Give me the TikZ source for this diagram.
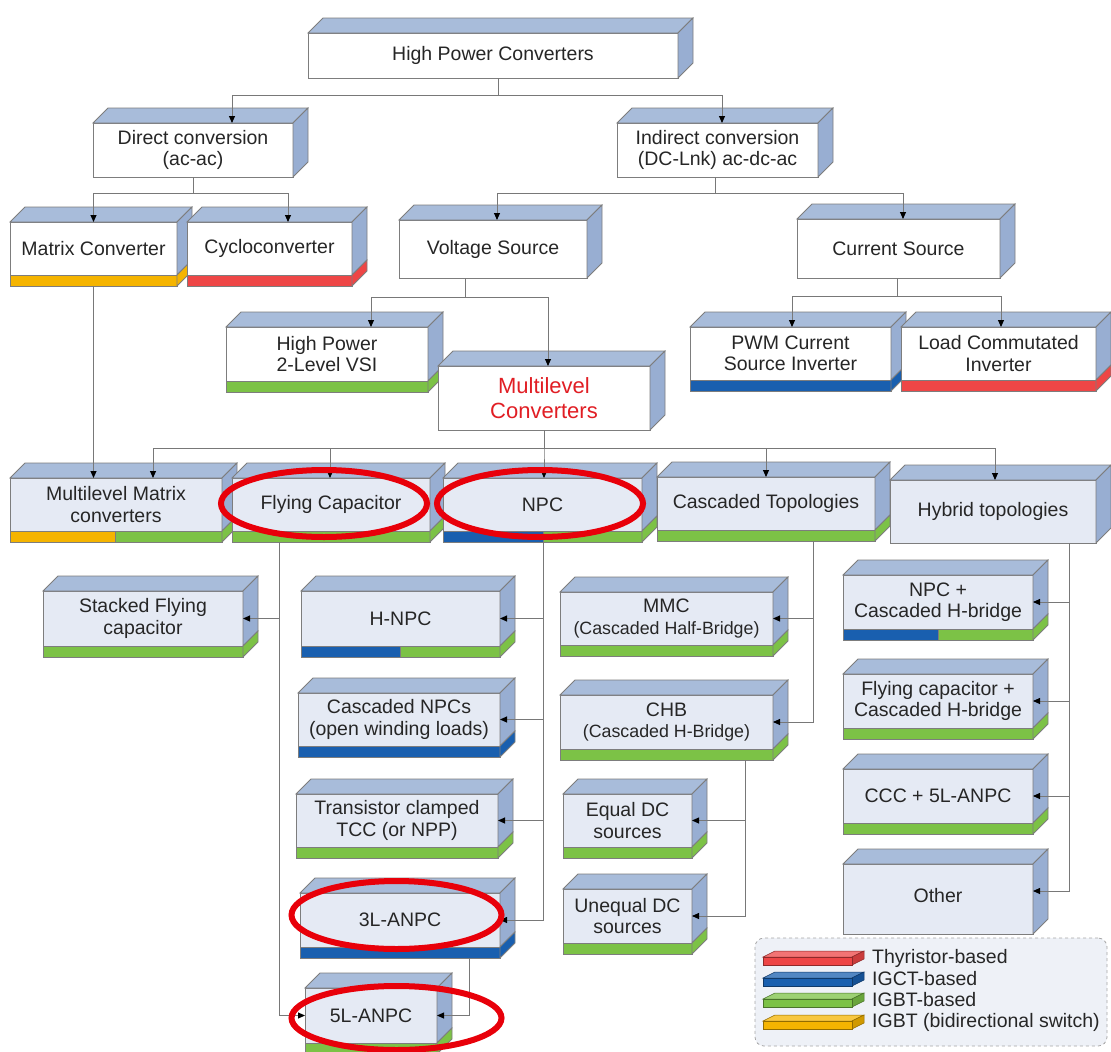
\documentclass[tikz,border=0pt]{standalone}
\usepackage{fontspec}
\setmainfont{Liberation Sans}
\usetikzlibrary{arrows.meta,calc}

\definecolor{topface}{RGB}{168,188,218}
\definecolor{sideface}{RGB}{152,174,210}
\definecolor{paleface}{RGB}{229,234,244}
\definecolor{edgegray}{RGB}{125,125,125}
\definecolor{linkgray}{RGB}{120,120,120}
\definecolor{thyred}{RGB}{238,70,70}
\definecolor{igctblue}{RGB}{25,95,175}
\definecolor{igbtgreen}{RGB}{124,194,70}
\definecolor{bidiorange}{RGB}{245,180,0}
\definecolor{ringred}{RGB}{232,0,10}
\definecolor{mltext}{RGB}{225,30,36}
\definecolor{legendfill}{RGB}{238,241,247}

\tikzset{
  face/.style={draw=edgegray, line width=0.8pt, fill=white, text=black!85,
    align=center, inner sep=2pt, outer sep=0pt,
    font=\fontsize{19.5}{21.5}\selectfont},
  lowface/.style={face, fill=paleface},
  devbar/.style={draw=edgegray, line width=0.8pt, minimum height=11pt,
    inner sep=0pt, outer sep=0pt, anchor=north},
  link/.style={draw=linkgray, line width=0.9pt},
  arr/.style={link, -{Triangle[length=7pt,width=6pt,black]}},
  ring/.style={draw=ringred, line width=6pt},
  legtext/.style={anchor=west, inner sep=0pt, text=black!85,
    font=\fontsize{19.5}{21}\selectfont}
}

% side face of a box (or of its bar)
\newcommand{\sidefill}[2]{%
  \filldraw[fill=#2, draw=edgegray, line width=0.8pt] (#1.north east) -- ++(15,-15)
    -- ([shift={(15pt,15pt)}]#1.south east) -- (#1.south east) -- cycle;
}
% top and side faces behind a front face
\newcommand{\deep}[1]{%
  \filldraw[fill=topface, draw=edgegray, line width=0.8pt] (#1.north west) -- ++(15,-15)
    -- ([shift={(15pt,15pt)}]#1.north east) -- (#1.north east) -- cycle;
  \sidefill{#1}{sideface}
}
% thin slab for the legend
\newcommand{\slab}[2]{%
  \filldraw[fill=#2!75!white, draw=#2!60!black, line width=0.5pt]
    (763,{#1-1}) -- (775,{#1-7}) -- (864,{#1-7}) -- (852,{#1-1}) -- cycle;
  \filldraw[fill=#2!85!black, draw=#2!60!black, line width=0.5pt]
    (852,{#1-1}) -- (864,{#1-7}) -- (864,{#1+1}) -- (852,{#1+7}) -- cycle;
  \filldraw[fill=#2, draw=#2!60!black, line width=0.5pt] (763,{#1-1}) rectangle (852,{#1+7});
}

\begin{document}
\begin{tikzpicture}[x=1pt, y=-1pt]
\useasboundingbox (0,0) rectangle (1111,1052);

% Top
\node[face, minimum width=370pt, minimum height=45pt] (hpc) at (493,55.5) {High Power Converters};
\deep{hpc}

% Conversion type
\node[face, minimum width=200pt, minimum height=54pt] (direct) at (193,150) {Direct conversion\\(ac-ac)};
\deep{direct}
\node[face, minimum width=201pt, minimum height=54pt] (indirect) at (717.5,150) {Indirect conversion\\(DC-Lnk) ac-dc-ac};
\deep{indirect}

% ac-ac converters
\node[face, minimum width=167pt, minimum height=53pt] (matrix) at (93.5,248.5) {Matrix Converter};
\node[devbar, fill=bidiorange, minimum width=167pt] (matrix-b) at (matrix.south) {};
\deep{matrix} \sidefill{matrix-b}{bidiorange}
\node[face, minimum width=165pt, minimum height=53pt] (cyclo) at (269.5,248.5) {Cycloconverter};
\node[devbar, fill=thyred, minimum width=165pt] (cyclo-b) at (cyclo.south) {};
\deep{cyclo} \sidefill{cyclo-b}{thyred}

% Sources
\node[face, minimum width=188pt, minimum height=58pt] (vsrc) at (493,249) {Voltage Source};
\deep{vsrc}
\node[face, minimum width=203pt, minimum height=59pt] (csrc) at (898.5,248.5) {Current Source};
\deep{csrc}

% Voltage source branch
\node[face, minimum width=202pt, minimum height=54pt] (vsi) at (327,354) {High Power\\2-Level VSI};
\node[devbar, fill=igbtgreen, minimum width=202pt] (vsi-b) at (vsi.south) {};
\deep{vsi} \sidefill{vsi-b}{igbtgreen}
\node[face, minimum width=212pt, minimum height=64pt, text=mltext,
  font=\fontsize{22}{25}\selectfont] (mlc) at (544,398) {Multilevel\\Converters};
\deep{mlc}

% Current source branch
\node[face, minimum width=201pt, minimum height=53pt] (pwm) at (790.5,353.5) {PWM Current\\Source Inverter};
\node[devbar, fill=igctblue, minimum width=201pt] (pwm-b) at (pwm.south) {};
\deep{pwm} \sidefill{pwm-b}{igctblue}
\node[face, minimum width=195pt, minimum height=53pt] (lci) at (998.5,353.5) {Load Commutated\\Inverter};
\node[devbar, fill=thyred, minimum width=195pt] (lci-b) at (lci.south) {};
\deep{lci} \sidefill{lci-b}{thyred}

% Multilevel families
\node[lowface, minimum width=212pt, minimum height=53pt] (mmcv) at (116,504.5) {Multilevel Matrix\\converters};
\node[devbar, anchor=north west, fill=bidiorange, minimum width=105pt] (mmcv-bo) at (mmcv.south west) {};
\node[devbar, anchor=north east, fill=igbtgreen, minimum width=107pt] (mmcv-bg) at (mmcv.south east) {};
\deep{mmcv} \sidefill{mmcv-bg}{igbtgreen}
\node[lowface, minimum width=198pt, minimum height=53pt] (fc) at (331,504.5) {Flying Capacitor};
\node[devbar, fill=igbtgreen, minimum width=198pt] (fc-b) at (fc.south) {};
\deep{fc} \sidefill{fc-b}{igbtgreen}
\node[lowface, minimum width=199pt, minimum height=53pt] (npc) at (542.5,504.5) {NPC};
\node[devbar, anchor=north west, fill=igctblue, minimum width=100pt] (npc-bb) at (npc.south west) {};
\node[devbar, anchor=north east, fill=igbtgreen, minimum width=99pt] (npc-bg) at (npc.south east) {};
\deep{npc} \sidefill{npc-bg}{igbtgreen}
\node[lowface, minimum width=218pt, minimum height=53pt] (casc) at (766,503.5) {Cascaded Topologies};
\node[devbar, fill=igbtgreen, minimum width=218pt] (casc-b) at (casc.south) {};
\deep{casc} \sidefill{casc-b}{igbtgreen}
\node[lowface, minimum width=206pt, minimum height=63pt] (hybrid) at (993,511.5) {Hybrid topologies};
\deep{hybrid}

% Flying capacitor column
\node[lowface, minimum width=200pt, minimum height=55pt] (sfc) at (143,618.5) {Stacked Flying\\capacitor};
\node[devbar, fill=igbtgreen, minimum width=200pt] (sfc-b) at (sfc.south) {};
\deep{sfc} \sidefill{sfc-b}{igbtgreen}

% NPC column
\node[lowface, minimum width=199pt, minimum height=55pt] (hnpc) at (400.5,618.5) {H-NPC};
\node[devbar, anchor=north west, fill=igctblue, minimum width=99pt] (hnpc-bb) at (hnpc.south west) {};
\node[devbar, anchor=north east, fill=igbtgreen, minimum width=100pt] (hnpc-bg) at (hnpc.south east) {};
\deep{hnpc} \sidefill{hnpc-bg}{igbtgreen}
\node[lowface, minimum width=202pt, minimum height=53pt] (cnpc) at (399,719.5) {Cascaded NPCs\\(open winding loads)};
\node[devbar, fill=igctblue, minimum width=202pt] (cnpc-b) at (cnpc.south) {};
\deep{cnpc} \sidefill{cnpc-b}{igctblue}
\node[lowface, minimum width=202pt, minimum height=53pt] (tcc) at (397,820.5) {Transistor clamped\\TCC (or NPP)};
\node[devbar, fill=igbtgreen, minimum width=202pt] (tcc-b) at (tcc.south) {};
\deep{tcc} \sidefill{tcc-b}{igbtgreen}
\node[lowface, minimum width=200pt, minimum height=54pt] (anpc3) at (400,920) {3L-ANPC};
\node[devbar, fill=igctblue, minimum width=200pt] (anpc3-b) at (anpc3.south) {};
\deep{anpc3} \sidefill{anpc3-b}{igctblue}
\node[lowface, minimum width=132pt, minimum height=55pt] (anpc5) at (371,1015.5) {5L-ANPC};
\node[devbar, fill=igbtgreen, minimum width=132pt] (anpc5-b) at (anpc5.south) {};
\deep{anpc5} \sidefill{anpc5-b}{igbtgreen}

% Cascaded column
\node[lowface, minimum width=213pt, minimum height=53pt] (mmc) at (666.5,618.5) {MMC\\{\fontsize{17.8}{20}\selectfont (Cascaded Half-Bridge)}};
\node[devbar, fill=igbtgreen, minimum width=213pt] (mmc-b) at (mmc.south) {};
\deep{mmc} \sidefill{mmc-b}{igbtgreen}
\node[lowface, minimum width=213pt, minimum height=54pt] (chb) at (666.5,722) {CHB\\{\fontsize{17.8}{20}\selectfont (Cascaded H-Bridge)}};
\node[devbar, fill=igbtgreen, minimum width=213pt] (chb-b) at (chb.south) {};
\deep{chb} \sidefill{chb-b}{igbtgreen}
\node[lowface, minimum width=129pt, minimum height=53pt] (eqdc) at (627.5,820.5) {Equal DC\\sources};
\node[devbar, fill=igbtgreen, minimum width=129pt] (eqdc-b) at (eqdc.south) {};
\deep{eqdc} \sidefill{eqdc-b}{igbtgreen}
\node[lowface, minimum width=129pt, minimum height=54pt] (uneqdc) at (627.5,916) {Unequal DC\\sources};
\node[devbar, fill=igbtgreen, minimum width=129pt] (uneqdc-b) at (uneqdc.south) {};
\deep{uneqdc} \sidefill{uneqdc-b}{igbtgreen}

% Hybrid column
\node[lowface, minimum width=190pt, minimum height=54pt] (npcchb) at (938,602) {NPC +\\Cascaded H-bridge};
\node[devbar, anchor=north west, fill=igctblue, minimum width=95pt] (npcchb-bb) at (npcchb.south west) {};
\node[devbar, anchor=north east, fill=igbtgreen, minimum width=95pt] (npcchb-bg) at (npcchb.south east) {};
\deep{npcchb} \sidefill{npcchb-bg}{igbtgreen}
\node[lowface, minimum width=190pt, minimum height=54pt] (fcchb) at (938,701) {Flying capacitor +\\Cascaded H-bridge};
\node[devbar, fill=igbtgreen, minimum width=190pt] (fcchb-b) at (fcchb.south) {};
\deep{fcchb} \sidefill{fcchb-b}{igbtgreen}
\node[lowface, minimum width=190pt, minimum height=54pt] (ccc) at (938,796) {CCC + 5L-ANPC};
\node[devbar, fill=igbtgreen, minimum width=190pt] (ccc-b) at (ccc.south) {};
\deep{ccc} \sidefill{ccc-b}{igbtgreen}
\node[lowface, minimum width=190pt, minimum height=70pt] (other) at (938,899) {\raisebox{8pt}{Other}};
\deep{other}

% Connectors
\draw[arr] ([xshift=5pt]hpc.south) -- ++(0,17) -| ([xshift=39pt]direct.north);
\draw[arr] ([xshift=5pt]hpc.south) -- ++(0,17) -| ([xshift=4.5pt]indirect.north);
\draw[arr] (direct.south) -- ++(0,16) -| (matrix.north);
\draw[arr] (direct.south) -- ++(0,16) -| ([xshift=18.5pt]cyclo.north);
\draw[arr] ([xshift=-2.5pt]indirect.south) -- ++(0,16) -| ([xshift=4pt]vsrc.north);
\draw[arr] ([xshift=-2.5pt]indirect.south) -- ++(0,16) -| ([xshift=4.5pt]csrc.north);
\draw[arr] ([xshift=-28pt]vsrc.south) -- ++(0,19) -| ([xshift=44pt]vsi.north);
\draw[arr] ([xshift=-28pt]vsrc.south) -- ++(0,19) -| ([xshift=4pt]mlc.north);
\draw[arr] ([xshift=-1.5pt]csrc.south) -- ++(0,18) -| ([xshift=1.5pt]pwm.north);
\draw[arr] ([xshift=-1.5pt]csrc.south) -- ++(0,18) -| ([xshift=2.5pt]lci.north);
\draw[arr] (matrix-b.south) -- (matrix-b.south |- mmcv.north);
\foreach \t/\s in {mmcv/37, fc/-1, npc/1.5, casc/0, hybrid/2}
  \draw[arr] (mlc.south) -- ++(0,18) -| ([xshift=\s pt]\t.north);
\draw[arr] ([xshift=-52pt]fc-b.south) |- (sfc.east);
\draw[arr] ([xshift=-52pt]fc-b.south) |- (anpc5.west);
\foreach \t in {hnpc, cnpc, tcc, anpc3}
  \draw[arr] (npc-bg.south west) |- (\t.east);
\draw[arr] ([xshift=69pt]anpc3-b.south) |- (anpc5.east);
\foreach \t in {mmc, chb}
  \draw[arr] ([xshift=47pt]casc-b.south) |- (\t.east);
\foreach \t in {eqdc, uneqdc}
  \draw[arr] ([xshift=78.5pt]chb-b.south) |- (\t.east);
\foreach \t in {npcchb, fcchb, ccc}
  \draw[arr] ([xshift=76pt]hybrid.south) |- (\t.east);
\draw[arr] ([xshift=76pt]hybrid.south) |- ([yshift=8pt]other.east);

% Legend
\node[draw=gray!70, dashed, line width=0.8pt, rounded corners=9pt, fill=legendfill,
  minimum width=352pt, minimum height=108pt] (legend) at (931,992) {};
\foreach \c/\y/\t [count=\i] in {thyred/958/{Thyristor-based}, igctblue/979/{IGCT-based},
    igbtgreen/1000/{IGBT-based}, bidiorange/1022/{IGBT (bidirectional switch)}} {
  \slab{\y}{\c}
  \node[legtext] (leg\i) at (872,\y) {\t};
}

% Highlight rings
\draw[ring] (324,503.5) ellipse [x radius=103pt, y radius=33.5pt];
\draw[ring] (540,503.5) ellipse [x radius=103pt, y radius=33.5pt];
\draw[ring] (396.5,915) ellipse [x radius=105pt, y radius=34pt];
\draw[ring] (396.5,1018) ellipse [x radius=105pt, y radius=32pt];

\end{tikzpicture}
\end{document}
